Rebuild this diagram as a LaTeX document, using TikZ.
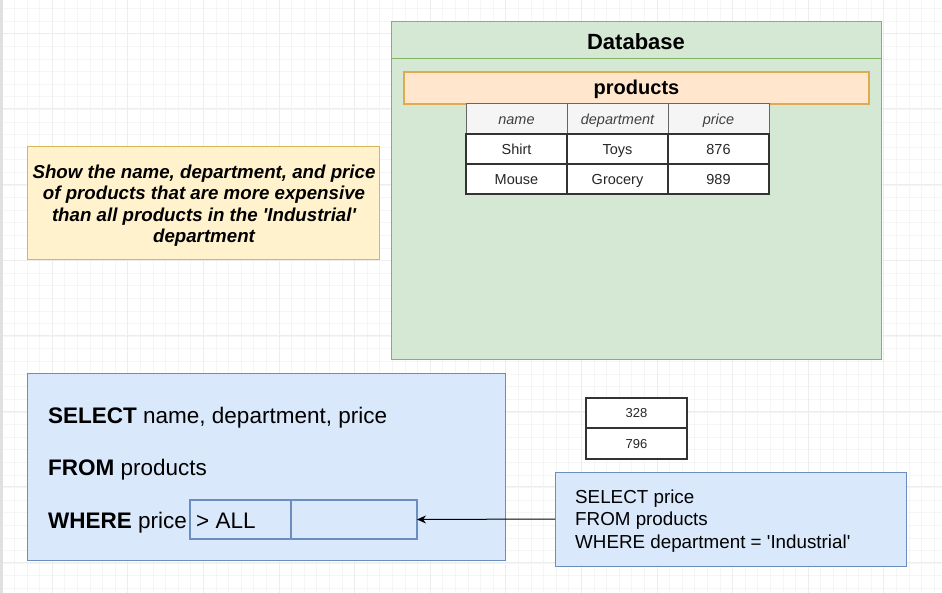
\documentclass[tikz,border=0pt]{standalone}
\usepackage{fontspec}
\setmainfont{Liberation Sans}
\usetikzlibrary{arrows.meta}
\definecolor{greenfill}{HTML}{D5E8D4}
\definecolor{greenline}{HTML}{82B366}
\definecolor{orangefill}{HTML}{FFE6CC}
\definecolor{orangeline}{HTML}{E0AA50}
\definecolor{yellowfill}{HTML}{FFF2CC}
\definecolor{yellowline}{HTML}{D6B656}
\definecolor{bluefill}{HTML}{DAE8FC}
\definecolor{blueline}{HTML}{6C8EBF}
\definecolor{headfill}{HTML}{F5F5F5}
\definecolor{gridminor}{HTML}{F5F5F5}
\definecolor{gridmajor}{HTML}{EDEDED}
\newcommand{\sq}{\textquotesingle}
\tikzset{
  box/.style={rectangle, outer sep=0pt, inner sep=0pt},
  capc/.style={text height=#1, text depth=0pt},
  dbbox/.style={box, fill=greenfill, draw=greenline, line width=1pt},
  tblbox/.style={box, fill=orangefill, draw=orangeline, line width=1.5pt},
  notebox/.style={box, fill=yellowfill, draw=yellowline, line width=1pt},
  qbox/.style={box, fill=bluefill, draw=blueline, line width=1pt},
  slotbox/.style={box, fill=bluefill, draw=blueline, line width=2.4pt, minimum height=39pt},
  headcell/.style={box, capc=10.4pt, fill=headfill, draw=black!60, line width=1pt, minimum width=101pt, minimum height=30pt,
    font=\fontsize{14.5}{17}\selectfont\itshape, text=black!75},
  datacell/.style={box, capc=10.4pt, fill=white, draw=black!80, line width=1.4pt, minimum width=101pt, minimum height=30pt,
    font=\fontsize{14.5}{17}\selectfont, text=black!85},
  smallcell/.style={box, capc=9.3pt, fill=white, draw=black!80, line width=1.2pt, minimum width=101pt,
    font=\fontsize{13}{16}\selectfont, text=black!85},
  sqltext/.style={anchor=west, inner sep=0pt, capc=16.1pt, font=\fontsize{22.5}{26}\selectfont},
}
\begin{document}
\begin{tikzpicture}[x=1pt, y=-1pt]
\useasboundingbox (0,0) rectangle (942,593);
\fill[white] (0,0) rectangle (942,593);
% grid
\foreach \i in {0,...,74} {
  \draw[gridminor, line width=0.8pt] ({14.3+12.6*\i},0) -- ({14.3+12.6*\i},593);
}
\foreach \j in {0,...,46} {
  \draw[gridminor, line width=0.8pt] (0,{8.7+12.6*\j}) -- (942,{8.7+12.6*\j});
}
\foreach \i in {0,...,12} {
  \draw[gridmajor, line width=0.9pt] ({52.3+75.6*\i},0) -- ({52.3+75.6*\i},593);
}
\foreach \j in {0,...,7} {
  \draw[gridmajor, line width=0.9pt] (0,{33.3+75.6*\j}) -- (942,{33.3+75.6*\j});
}
\fill[black!12] (0,0) rectangle (2.5,593);

% Database
\node[dbbox, minimum width=490pt, minimum height=338pt] (db) at (636,191) {};
\draw[greenline, line width=1pt] ([yshift=-37pt]db.north west) -- ([yshift=-37pt]db.north east);
\node[font=\fontsize{22}{26}\selectfont\bfseries, inner sep=0pt, capc=15.75pt] (dbtitle) at (636,41.3) {Database};

% products table
\node[tblbox, minimum width=465pt, minimum height=32pt] (prod) at (636.5,88) {};
\node[font=\fontsize{20}{24}\selectfont\bfseries, inner sep=0pt, capc=14.3pt] (prodtitle) at (636.5,87.7) {products};
\node[headcell] (h1) at (516.5,119) {name};
\node[headcell] (h2) at (617.5,119) {department};
\node[headcell] (h3) at (718.5,119) {price};
\node[datacell] (a1) at (516.5,149) {Shirt};
\node[datacell] (a2) at (617.5,149) {Toys};
\node[datacell] (a3) at (718.5,149) {876};
\node[datacell] (b1) at (516.5,179) {Mouse};
\node[datacell] (b2) at (617.5,179) {Grocery};
\node[datacell] (b3) at (718.5,179) {989};

% question note
\node[notebox, minimum width=352pt, minimum height=113pt] (note) at (203,203.5) {};
\node[align=center, inner sep=0pt, font=\fontsize{18.7}{21.5}\selectfont\bfseries\itshape] (notetext) at (204,205.5)
  {Show the name, department, and price\\of products that are more expensive\\than all products in the \sq Industrial\sq\\department};

% main query
\node[qbox, minimum width=478pt, minimum height=187pt] (mainq) at (266,466.5) {};
\node[sqltext] (sel) at (48,415) {\textbf{SELECT} name, department, price};
\node[sqltext] (frm) at (48,467.5) {\textbf{FROM} products};
\node[sqltext] (whr) at (48,520) {\textbf{WHERE} price};
\node[slotbox, minimum width=101pt] (allslot) at (240.5,519.5) {};
\node[sqltext] (alltext) at (196,520.5) {> ALL};
\node[slotbox, minimum width=126pt] (subslot) at (354,519.5) {};

% subquery result
\node[smallcell, minimum height=30pt] (r1) at (636.5,413) {328};
\node[smallcell, minimum height=31pt] (r2) at (636.5,443.5) {796};

% subquery
\node[qbox, minimum width=351pt, minimum height=94pt] (subq) at (730.5,519) {};
\node[anchor=west, align=left, inner sep=0pt, font=\fontsize{18.8}{22.5}\selectfont] (subtext) at (575,521)
  {SELECT price\\FROM products\\WHERE department = \sq Industrial\sq};

\draw[-{Stealth[length=9pt, width=8pt]}, line width=1pt, black] (subq.west) -- (subslot.east);
\end{tikzpicture}
\end{document}
